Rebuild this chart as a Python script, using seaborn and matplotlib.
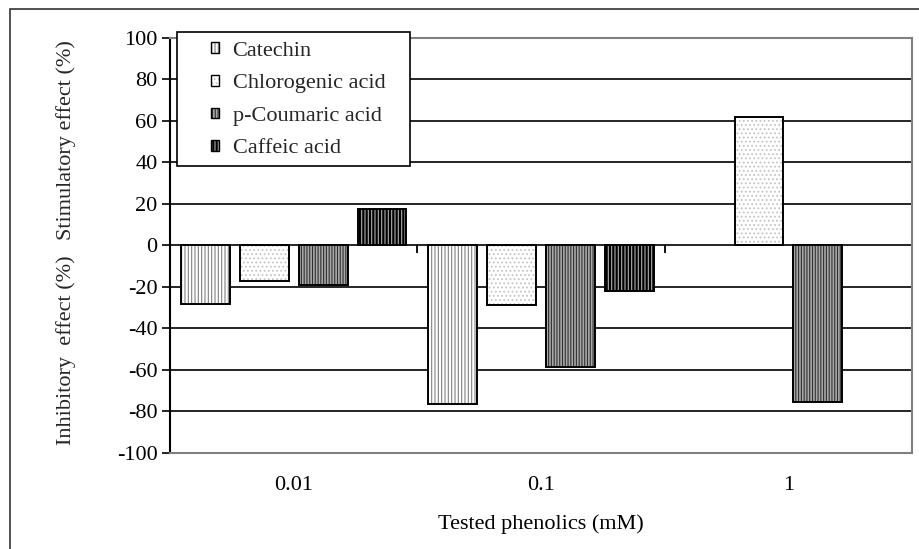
import numpy as np
import pandas as pd
import matplotlib
matplotlib.use("Agg")
import matplotlib.pyplot as plt
from matplotlib.patches import Patch, Rectangle
from matplotlib.legend_handler import HandlerTuple
import seaborn as sns

# values (% effect, negative = inhibitory)
concentrations = ["0.01", "0.1", "1"]
compounds = ["Catechin", "Chlorogenic acid", "p-Coumaric acid", "Caffeic acid"]
catechin = [-28, -76.5, np.nan]
chlorogenic = [-17, -28.7, 62]
p_coumaric = [-19, -58.5, -75.7]
caffeic = [17.5, -22, np.nan]

# bar styling: face colour, hatch pattern, hatch colour
face_colors = ["white", "white", "#a8a8a8", "black"]
hatches = ["|||||", "....", "||||||", "|||||"]
hatch_colors = ["#808080", "#c4c4c4", "#303030", "#b0b0b0"]

rows = []
for name, vals in zip(compounds, [catechin, chlorogenic, p_coumaric, caffeic]):
    for conc, v in zip(concentrations, vals):
        rows.append({"conc": conc, "compound": name, "effect": v})
df = pd.DataFrame(rows)

sns.set_theme(style="white")
plt.rcParams["font.family"] = ["Liberation Serif", "DejaVu Serif"]
plt.rcParams["hatch.linewidth"] = 0.8
plt.rcParams["axes.unicode_minus"] = False

fig = plt.figure(figsize=(9.19, 5.49), dpi=100)
ax = fig.add_axes([0.185, 0.175, 0.8074, 0.756])

sns.barplot(data=df, x="conc", y="effect", hue="compound",
            order=concentrations, hue_order=compounds,
            palette=face_colors, width=0.953, gap=0.173,
            linewidth=0, legend=False, ax=ax, zorder=3)
for cont, h, hc in zip(ax.containers, hatches, hatch_colors):
    for bar in cont:
        bar.set_hatch(h)
        bar.set_edgecolor(hc)
        bar.set_linewidth(0)

# black outlines on top
sns.barplot(data=df, x="conc", y="effect", hue="compound",
            order=concentrations, hue_order=compounds,
            palette=["black"] * 4, fill=False, width=0.953, gap=0.173,
            linewidth=1.4, legend=False, ax=ax, zorder=4)

ax.set_ylim(-100, 100)
ax.set_xlim(-0.5, 2.5)
ax.set_yticks(np.arange(-100, 101, 20))
ax.yaxis.grid(True, color="black", linewidth=1.2)
ax.set_axisbelow(True)
ax.tick_params(axis="y", direction="out", length=6, width=1.2, labelsize=16,
               pad=3, left=True, color="black")
ax.tick_params(axis="x", length=0, labelsize=16, pad=16.5)
ax.set_xticks(range(len(concentrations)))
ax.set_xticklabels(concentrations)
ax.set_xlabel("Tested phenolics (mM)", fontsize=16, labelpad=14, color="black")
ax.set_ylabel("")
for lbl in ax.get_xticklabels() + ax.get_yticklabels():
    lbl.set_color("black")

for side in ["top", "right", "bottom"]:
    ax.spines[side].set_color("#808080")
    ax.spines[side].set_linewidth(1.5)
ax.spines["left"].set_color("black")
ax.spines["left"].set_linewidth(1.5)

# category axis crossing at zero with ticks between groups
sec = ax.secondary_xaxis(0.5)
sec.set_xticks([0.5, 1.5])
sec.xaxis.set_ticks_position("bottom")
sec.tick_params(axis="x", direction="out", length=6, width=1.3, color="black",
                labelbottom=False, labeltop=False)
sec.spines["bottom"].set_color("black")
sec.spines["bottom"].set_linewidth(1.5)
sec.spines["top"].set_visible(False)

ax.text(-0.1405, 0.754, "Stimulatory effect (%)", transform=ax.transAxes,
        rotation=90, ha="center", va="center", fontsize=16)
ax.text(-0.1405, 0.248, "Inhibitory  effect (%)", transform=ax.transAxes,
        rotation=90, ha="center", va="center", fontsize=16)

# legend box
ax.add_patch(Rectangle((0.0094, 0.6916), 0.314, 0.3229, transform=ax.transAxes,
                       facecolor="white", edgecolor="black", linewidth=1.2,
                       clip_on=False, zorder=6))
handles = []
for fc, h, hc in zip(face_colors, hatches, hatch_colors):
    handles.append((Patch(facecolor=fc, hatch=h, edgecolor=hc, linewidth=0),
                    Patch(fill=False, edgecolor="black", linewidth=1.0)))
leg = ax.legend(handles, compounds, handler_map={tuple: HandlerTuple(ndivide=1)},
                loc="upper left", bbox_to_anchor=(0.055, 0.9905), frameon=False,
                borderpad=0, borderaxespad=0, fontsize=16, handlelength=0.38,
                handleheight=0.38, handletextpad=0.6, labelspacing=0.61)
leg.set_zorder(7)

# chart area frame
fig.add_artist(Rectangle((10 / 919, -0.1), 1.2, 1.0836, transform=fig.transFigure,
                         fill=False, edgecolor="#333333", linewidth=1.2))

fig.savefig("out.png", dpi=100)
